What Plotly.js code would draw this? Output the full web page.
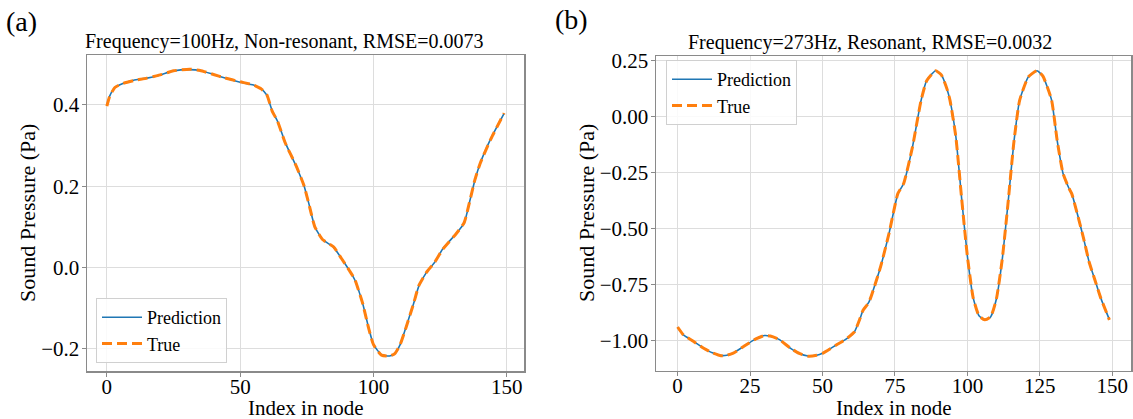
<!DOCTYPE html>
<html>
<head>
<meta charset="utf-8">
<script src="https://cdn.plot.ly/plotly-3.0.1.min.js"></script>
<style>html,body{margin:0;padding:0;background:#fff;}#chart{width:1133px;height:419px;}</style>
</head>
<body>
<div id="chart"></div>
<script>
// ---- Data ----
const leftIndex = [0,1,3,6,10,15,20,25,31,35,40,44,50,55,58,60,62,64,67,71,74,76,78,81,85,88,91,93,96,98,100,103,106,108,110,112,115,117,120,123,126,131,134,136,138,140,144,149];
const leftTrue  = [0.397,0.42,0.443,0.453,0.46,0.466,0.474,0.484,0.488,0.485,0.475,0.467,0.457,0.449,0.439,0.425,0.385,0.36,0.305,0.25,0.2,0.15,0.1,0.068,0.051,0.022,-0.008,-0.03,-0.09,-0.145,-0.19,-0.216,-0.218,-0.212,-0.19,-0.152,-0.09,-0.045,-0.011,0.013,0.045,0.083,0.11,0.16,0.215,0.256,0.316,0.38];
const leftPred  = [0.398,0.421,0.443,0.453,0.461,0.466,0.474,0.484,0.487,0.485,0.475,0.467,0.456,0.449,0.439,0.424,0.386,0.36,0.306,0.249,0.2,0.151,0.1,0.068,0.05,0.022,-0.008,-0.031,-0.09,-0.144,-0.19,-0.215,-0.218,-0.212,-0.19,-0.151,-0.09,-0.046,-0.011,0.013,0.046,0.083,0.109,0.16,0.214,0.256,0.317,0.379];

const rightIndex = [0,2,5,9,12,15,17,19,23,27,30,32,35,39,42,45,48,50,55,58,61,63,64,66,70,73,76,78,81,84,86,89,91,93,94,96,98,100,102,104,106,108,110,112,114,116,118,121,124,126,129,131,133,135,136,140,142,144,146,149];
const rightTrue  = [-0.94,-0.975,-1.0,-1.035,-1.055,-1.068,-1.066,-1.058,-1.025,-0.993,-0.978,-0.98,-0.995,-1.035,-1.058,-1.07,-1.066,-1.058,-1.018,-0.995,-0.962,-0.9,-0.865,-0.83,-0.673,-0.52,-0.345,-0.3,-0.14,0.07,0.16,0.203,0.185,0.12,0.071,-0.09,-0.365,-0.625,-0.81,-0.89,-0.908,-0.895,-0.815,-0.64,-0.39,-0.12,0.07,0.175,0.203,0.18,0.075,-0.11,-0.255,-0.32,-0.345,-0.54,-0.65,-0.73,-0.81,-0.908];
const rightPred  = [-0.941,-0.975,-1.0,-1.034,-1.055,-1.067,-1.066,-1.058,-1.025,-0.993,-0.978,-0.981,-0.995,-1.035,-1.058,-1.069,-1.066,-1.057,-1.018,-0.995,-0.962,-0.901,-0.865,-0.829,-0.673,-0.52,-0.346,-0.3,-0.14,0.07,0.161,0.203,0.185,0.12,0.071,-0.089,-0.365,-0.625,-0.81,-0.89,-0.907,-0.895,-0.815,-0.641,-0.39,-0.12,0.07,0.175,0.203,0.18,0.075,-0.11,-0.255,-0.32,-0.345,-0.54,-0.65,-0.73,-0.81,-0.907];

const seriesNames = ["Prediction", "True"];
const leftTitle  = "Frequency=100Hz, Non-resonant, RMSE=0.0073";
const rightTitle = "Frequency=273Hz, Resonant, RMSE=0.0032";
const xLabel = "Index in node";
const yLabel = "Sound Pressure (Pa)";
const leftYTicks  = [-0.2, 0.0, 0.2, 0.4];
const leftXTicks  = [0, 50, 100, 150];
const rightYTicks = [-1.0, -0.75, -0.5, -0.25, 0.0, 0.25];
const rightXTicks = [0, 25, 50, 75, 100, 125, 150];

// ---- Styles ----
const FONT = "Liberation Serif";
const BLUE = "#1f77b4", ORANGE = "#ff7f0e";
const W = 1133, H = 419;
const smooth = {shape: "spline", smoothing: 0.5};

const traces = [
  {x: leftIndex, y: leftPred, name: seriesNames[0], mode: "lines", xaxis: "x", yaxis: "y",
   line: Object.assign({color: BLUE, width: 1.6}, smooth), legend: "legend"},
  {x: leftIndex, y: leftTrue, name: seriesNames[1], mode: "lines", xaxis: "x", yaxis: "y",
   line: Object.assign({color: ORANGE, width: 3, dash: "10px,5px"}, smooth), legend: "legend"},
  {x: rightIndex, y: rightPred, name: seriesNames[0], mode: "lines", xaxis: "x2", yaxis: "y2",
   line: Object.assign({color: BLUE, width: 1.6}, smooth), legend: "legend2"},
  {x: rightIndex, y: rightTrue, name: seriesNames[1], mode: "lines", xaxis: "x2", yaxis: "y2",
   line: Object.assign({color: ORANGE, width: 3, dash: "10px,5px"}, smooth), legend: "legend2"}
];

function xax(domain, ticks) {
  return {
    domain: domain, range: [-7.45, 156.45], tickvals: ticks, ticktext: ticks.map(String),
    showgrid: true, gridcolor: "#dddddd", gridwidth: 1, zeroline: false,
    showline: true, linecolor: "#8a8a8a", linewidth: 1.5, mirror: true,
    ticks: "outside", ticklen: 4, tickcolor: "#8a8a8a", tickwidth: 1,
    ticklabelstandoff: -8,
    tickfont: {family: FONT, size: 21, color: "#000"},
    automargin: false, fixedrange: true
  };
}
function yax(domain, range, ticks, fmt) {
  return {
    domain: domain, range: range, tickvals: ticks, tickformat: fmt,
    showgrid: true, gridcolor: "#dddddd", gridwidth: 1, zeroline: false,
    showline: true, linecolor: "#8a8a8a", linewidth: 1.5, mirror: true,
    ticks: "outside", ticklen: 4, tickcolor: "#8a8a8a", tickwidth: 1,
    ticklabelstandoff: -2,
    tickfont: {family: FONT, size: 21, color: "#000"},
    automargin: false, fixedrange: true
  };
}

const legendStyle = {
  bgcolor: "rgba(255,255,255,0.85)", bordercolor: "#d0d0d0", borderwidth: 1,
  font: {family: FONT, size: 18, color: "#000"}, xanchor: "left", yanchor: "top",
  tracegroupgap: 0, itemwidth: 40
};

function ann(text, x, y, xa, ya, size, angle) {
  return {text: text, xref: "paper", yref: "paper", x: x / W, y: (H - y) / H,
    xanchor: xa, yanchor: ya, showarrow: false, textangle: angle || 0,
    font: {family: FONT, size: size, color: "#000"}};
}

const layout = {
  width: W, height: H,
  margin: {l: 0, r: 0, t: 0, b: 0},
  paper_bgcolor: "#fff", plot_bgcolor: "#fff",
  font: {family: FONT, color: "#000"},
  showlegend: true,
  xaxis: xax([87 / W, 524 / W], leftXTicks),
  yaxis: yax([48 / H, 364 / H], [-0.255, 0.523], leftYTicks, ".1f"),
  xaxis2: Object.assign(xax([656 / W, 1131 / W], rightXTicks), {anchor: "y2"}),
  yaxis2: Object.assign(yax([48.5 / H, 363 / H], [-1.134, 0.269], rightYTicks, ".2f"), {anchor: "x2"}),
  legend: Object.assign({x: 96 / W, y: (H - 298) / H}, legendStyle),
  legend2: Object.assign({x: 666 / W, y: (H - 60) / H}, legendStyle),
  annotations: [
    ann(leftTitle, 284, 55, "center", "bottom", 20),
    ann(rightTitle, 870, 56, "center", "bottom", 20),
    ann("(a)", 4, 4, "left", "top", 28),
    ann("(b)", 553, 2, "left", "top", 28),
    ann(xLabel, 305.5, 408, "center", "middle", 21),
    ann(xLabel, 893.5, 408, "center", "middle", 21),
    ann(yLabel, 27, 213, "center", "middle", 22, -90),
    ann(yLabel, 586, 213, "center", "middle", 22, -90)
  ]
};

Plotly.newPlot("chart", traces, layout, {staticPlot: true, displayModeBar: false});
</script>
</body>
</html>
